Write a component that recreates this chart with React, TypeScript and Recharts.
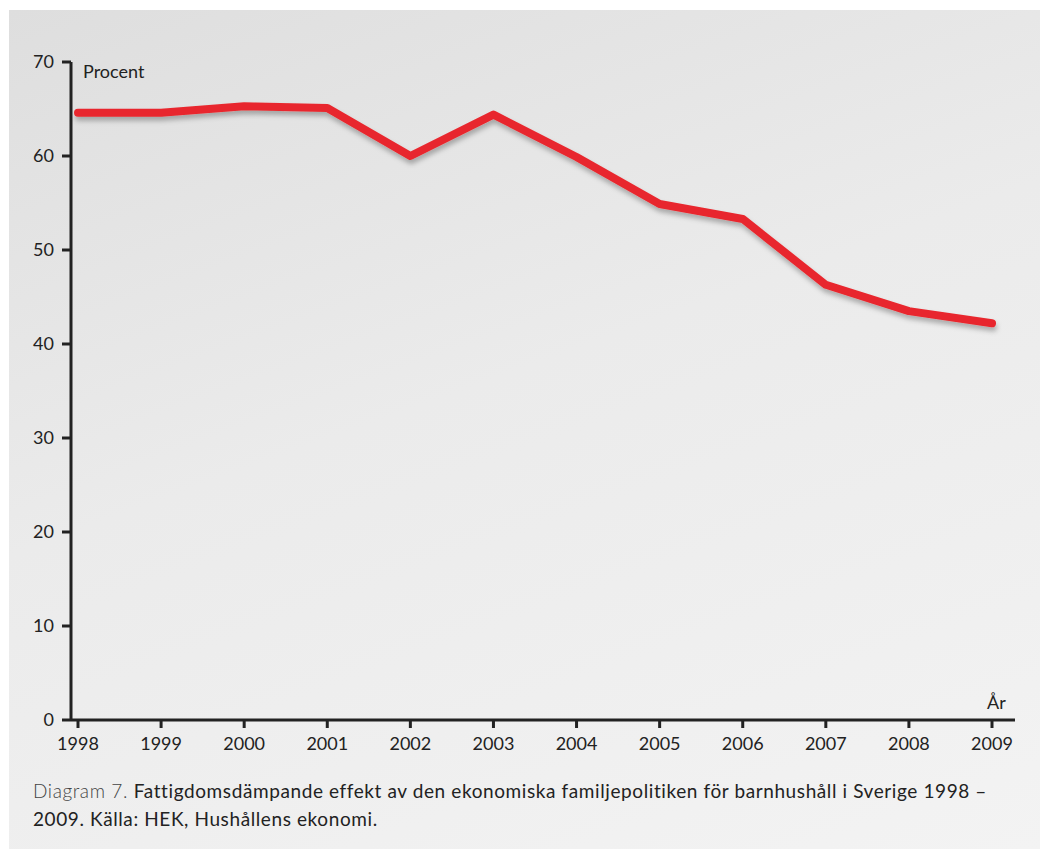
import { LineChart, Line, XAxis, YAxis } from 'recharts'

const years = ['1998', '1999', '2000', '2001', '2002', '2003', '2004', '2005', '2006', '2007', '2008', '2009']
const effect = [64.6, 64.6, 65.3, 65.1, 60.0, 64.4, 59.9, 54.9, 53.3, 46.3, 43.5, 42.2]
const yTicks = [0, 10, 20, 30, 40, 50, 60, 70]

const data = years.map((year, i) => ({ year, effect: effect[i] }))

const font = 'Lato, "Open Sans", sans-serif'
const axisColor = '#222'

export default function App() {
  return (
    <div
      style={{
        position: 'absolute',
        left: 9,
        top: 10,
        width: 1031,
        height: 839,
        background: 'linear-gradient(160deg, #dedede 0%, #ebebeb 45%, #f3f3f3 100%)',
        fontFamily: font,
        color: '#222',
        overflow: 'hidden',
      }}
    >
      <LineChart width={1031} height={760} data={data} margin={{ top: 52, right: 25, bottom: 20, left: 0 }}>
        <defs>
          <filter id="lineShadow" x="-5%" y="-20%" width="110%" height="150%">
            <feDropShadow dx="1" dy="4" stdDeviation="2.5" floodColor="#000" floodOpacity="0.28" />
          </filter>
        </defs>
        <XAxis
          dataKey="year"
          padding={{ left: 7, right: 23 }}
          tickSize={8}
          tickMargin={9}
          stroke={axisColor}
          strokeWidth={3}
          tick={{ fill: '#222', fontSize: 18, fontFamily: font }}
          interval={0}
        />
        <YAxis
          width={62}
          domain={[0, 70]}
          ticks={yTicks}
          tickSize={9}
          tickMargin={8}
          stroke={axisColor}
          strokeWidth={3}
          tick={{ fill: '#222', fontSize: 18, fontFamily: font }}
          interval={0}
        />
        <Line
          type="linear"
          dataKey="effect"
          stroke="#e8282d"
          strokeWidth={8}
          strokeLinecap="round"
          strokeLinejoin="round"
          dot={false}
          activeDot={false}
          filter="url(#lineShadow)"
          isAnimationActive={false}
        />
      </LineChart>
      <div style={{ position: 'absolute', left: 74, top: 50, fontSize: 18 }}>Procent</div>
      <div style={{ position: 'absolute', left: 978, top: 681, fontSize: 18 }}>År</div>
      <div
        style={{
          position: 'absolute',
          left: 24,
          top: 767,
          fontSize: 19,
          letterSpacing: 0.6,
          lineHeight: '28px',
          width: 1000,
        }}
      >
        <span style={{ color: '#444', fontWeight: 300 }}>Diagram 7. </span>
        Fattigdomsdämpande effekt av den ekonomiska familjepolitiken för barnhushåll i Sverige 1998 –
        <br />
        2009. Källa: HEK, Hushållens ekonomi.
      </div>
    </div>
  )
}
